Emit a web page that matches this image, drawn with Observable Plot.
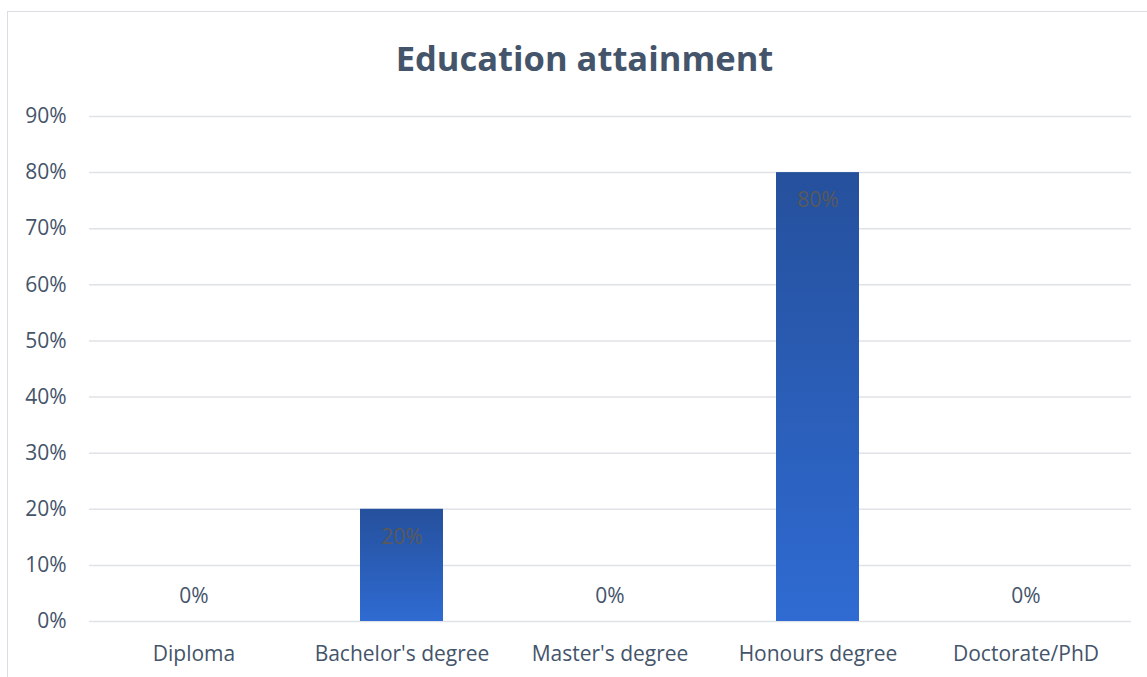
<!DOCTYPE html>
<html>
<head>
<meta charset="utf-8">
<script src="https://cdn.jsdelivr.net/npm/d3@7"></script>
<script src="https://cdn.jsdelivr.net/npm/@observablehq/plot@0.6"></script>
<style>
  html, body { margin: 0; padding: 0; background: #fff; }
  #wrap { position: relative; width: 1147px; height: 677px; overflow: hidden; font-family: "Open Sans", sans-serif; }
  #frame { position: absolute; left: 7px; top: 11px; width: 1160px; height: 700px; border-left: 1px solid #dadde2; border-top: 1px solid #dadde2; }
  #title { position: absolute; left: 0; top: 33px; width: 1169px; text-align: center; font-size: 34.5px; font-weight: 700; color: #44546a; line-height: 50px; }
  #chart { position: absolute; left: 0; top: 90px; }
</style>
</head>
<body>
<div id="wrap">
  <div id="frame"></div>
  <div id="title">Education attainment</div>
  <div id="chart"></div>
</div>
<script>
const categories = ["Diploma", "Bachelor's degree", "Master's degree", "Honours degree", "Doctorate/PhD"];
const values = [0, 20, 0, 80, 0];
const yTicks = [0, 10, 20, 30, 40, 50, 60, 70, 80, 90];

const data = categories.map((c, i) => ({category: c, value: values[i]}));
const textColor = "#44546a";

const plot = Plot.plot({
  width: 1147,
  height: 587,
  marginTop: 26,
  marginBottom: 56,
  marginLeft: 89,
  marginRight: 16,
  style: {fontFamily: "'Open Sans', sans-serif", fontSize: "21px", color: textColor, background: "transparent"},
  x: {domain: categories, paddingInner: 0.6, paddingOuter: 0.3, label: null, tickSize: 0, tickPadding: 25},
  y: {domain: [0, 90], ticks: yTicks, tickFormat: d => d + "%", label: null, tickSize: 0, tickPadding: 23},
  marks: [
    Plot.gridY(yTicks, {stroke: "#dfe2e7", strokeOpacity: 1, strokeWidth: 1.5}),
    Plot.barY(data, {x: "category", y: "value", fill: "url(#barGrad)"}),
    Plot.text(data.filter(d => d.value > 0), {x: "category", y: "value", text: d => d.value + "%", dy: 28, fill: "#595959", fontSize: 21}),
    Plot.text(data.filter(d => d.value === 0), {x: "category", y: "value", text: d => d.value + "%", dy: -25, fill: textColor, fontSize: 21})
  ]
});

const svg = d3.select(plot);
const defs = svg.insert("defs", ":first-child");
const g = defs.append("linearGradient").attr("id", "barGrad").attr("x1", 0).attr("y1", 0).attr("x2", 0).attr("y2", 1);
g.append("stop").attr("offset", "0%").attr("stop-color", "#25509c");
g.append("stop").attr("offset", "100%").attr("stop-color", "#2f6bd2");

document.getElementById("chart").appendChild(plot);
</script>
</body>
</html>
